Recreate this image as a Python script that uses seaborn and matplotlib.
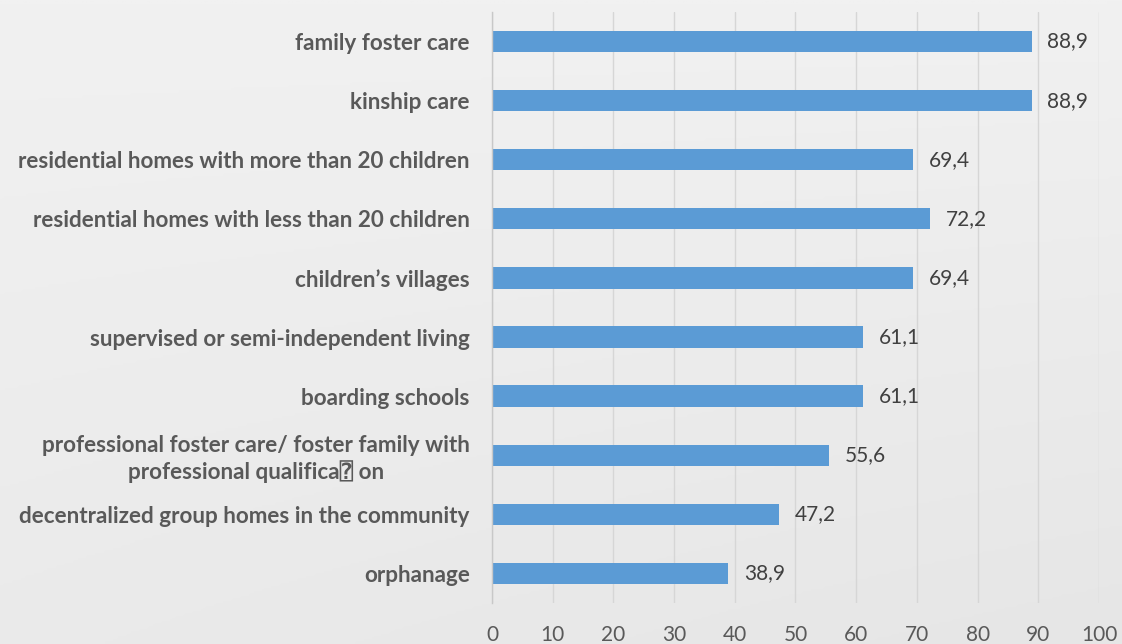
import matplotlib
matplotlib.use("Agg")
import matplotlib.pyplot as plt
import seaborn as sns
import pandas as pd
import numpy as np

categories = [
    "family foster care",
    "kinship care",
    "residential homes with more than 20 children",
    "residential homes with less than 20 children",
    "children\u2019s villages",
    "supervised or semi-independent living",
    "boarding schools",
    "professional foster care/ foster family with\nprofessional qualifica\u2370 on",
    "decentralized group homes in the community",
    "orphanage",
]
values = [88.9, 88.9, 69.4, 72.2, 69.4, 61.1, 61.1, 55.6, 47.2, 38.9]
value_labels = ["88,9", "88,9", "69,4", "72,2", "69,4", "61,1", "61,1", "55,6", "47,2", "38,9"]
x_ticks = [0, 10, 20, 30, 40, 50, 60, 70, 80, 90, 100]

sns.set_theme(style="white")
plt.rcParams["font.family"] = ["Lato", "DejaVu Sans", "DejaVu Sans Mono"]

df = pd.DataFrame({"category": categories, "value": values})

fig = plt.figure(figsize=(11.22, 6.44), dpi=100)
bg = "#ebebeb"
fig.patch.set_facecolor(bg)
# subtle background gradient
grad = np.linspace(0, 1, 256).reshape(-1, 1) * np.linspace(0.6, 1, 256).reshape(1, -1)
bax = fig.add_axes([0, 0, 1, 1], zorder=-10)
bax.imshow(grad, cmap=matplotlib.colors.LinearSegmentedColormap.from_list("g", ["#f1f1f1", "#e6e6e6"]),
           aspect="auto", extent=[0, 1, 0, 1])
bax.axis("off")

ax = fig.add_axes([0.4385, 0.0637, 0.9795 - 0.4385, 0.9814 - 0.0637])
ax.set_facecolor("none")
sns.barplot(data=df, x="value", y="category", color="#5b9bd5", width=0.36,
            saturation=1, ax=ax, orient="h", linewidth=0)

ax.set_xlim(0, 100)
ax.set_ylim(9.5, -0.5)
ax.set_xticks(x_ticks)
ax.set_xticklabels([str(t) for t in x_ticks])
ax.grid(axis="x", color="#d6d6d6", linewidth=1)
ax.set_axisbelow(True)
for s in ["top", "right", "bottom"]:
    ax.spines[s].set_visible(False)
ax.spines["left"].set_color("#c8c8c8")
ax.spines["left"].set_linewidth(1)
ax.set_xlabel("")
ax.set_ylabel("")
ax.tick_params(axis="y", length=0, pad=16, labelsize=16.2, labelcolor="#595959")
ax.tick_params(axis="x", length=0, pad=16, labelsize=15, labelcolor="#595959")
for lab in ax.get_yticklabels():
    lab.set_fontweight("bold")
    lab.set_multialignment("center")

for i, (v, t) in enumerate(zip(values, value_labels)):
    ax.text(v + 2.6, i, t, va="center", ha="left", fontsize=15, color="#404040")

fig.savefig("out.png", dpi=100, facecolor=fig.get_facecolor())
